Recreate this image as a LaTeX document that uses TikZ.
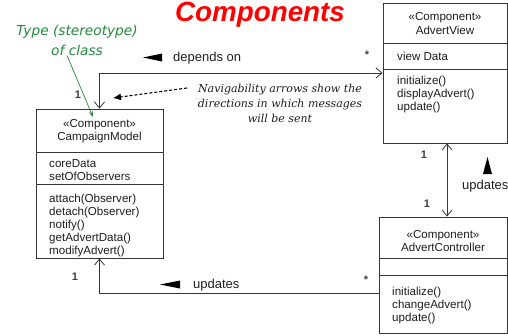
\documentclass[tikz,border=0pt]{standalone}
\usepackage{fontspec}
\setmainfont{Liberation Sans}
\newfontfamily\notefont{DejaVu Serif}
\newfontfamily\calloutfont{DejaVu Sans}
\usetikzlibrary{arrows.meta}
\definecolor{umlline}{RGB}{55,55,55}
\definecolor{umltext}{RGB}{30,30,30}
\definecolor{calloutgreen}{RGB}{34,139,60}
\begin{document}
\begin{tikzpicture}[x=1pt,y=-1pt,
  cls/.style={draw=umlline, line width=0.9pt, fill=white, inner sep=0pt},
  txt/.style={font=\fontsize{11.6}{13.2}\selectfont, text=umltext, inner sep=0pt},
  lbl/.style={font=\fontsize{13}{15}\selectfont, text=umltext, inner sep=0pt},
  mult/.style={font=\fontsize{11}{13}\bfseries\selectfont, text=umltext!85, inner sep=0pt},
  assoc/.style={draw=umlline, line width=0.8pt},
  nav/.style={-{Straight Barb[length=6pt,width=10pt,line width=0.8pt]}},
  navboth/.style={{Straight Barb[length=6pt,width=10pt,line width=0.8pt]}-{Straight Barb[length=6pt,width=10pt,line width=0.8pt]}},
  dirmark/.style={fill=black}
]
\useasboundingbox (0,0) rectangle (508,335);

% title
\node[font=\fontsize{27.8}{30}\bfseries\itshape\selectfont, text=red, inner sep=0pt, anchor=base] (title) at (260,21) {Components};

% CampaignModel
\node[cls, minimum width=127pt, minimum height=149pt] (cm) at (99.5,183.5) {};
\draw[assoc] (36,152) -- (163,152);
\draw[assoc] (36,184) -- (163,184);
\node[txt, align=center] (cmhead) at (99.5,131) {«Component»\\CampaignModel};
\node[txt, align=left, anchor=north west] (cmattr) at (49,159.5) {coreData\\setOfObservers};
\node[txt, align=left, anchor=north west] (cmops) at (49,193.5) {attach(Observer)\\detach(Observer)\\notify()\\getAdvertData()\\modifyAdvert()};

% AdvertView
\node[cls, minimum width=124pt, minimum height=140pt] (av) at (445,73) {};
\draw[assoc] (383,43) -- (507,43);
\draw[assoc] (383,69) -- (507,69);
\node[txt, align=center] (avhead) at (445,23.5) {«Component»\\AdvertView};
\node[txt, anchor=base west] (avattr) at (397,60) {view Data};
\node[txt, align=left, anchor=north west] (avops) at (397,75.5) {initialize()\\displayAdvert()\\update()};

% AdvertController
\node[cls, minimum width=128pt, minimum height=116pt] (ac) at (443,275) {};
\draw[assoc] (379,258) -- (507,258);
\draw[assoc] (379,275) -- (507,275);
\node[txt, align=center] (achead) at (443,241) {«Component»\\AdvertController};
\node[txt, align=left, anchor=north west] (acops) at (392,286.5) {initialize()\\changeAdvert()\\update()};

% associations
\draw[assoc, navboth] (cm.north) |- (av.west);
\draw[assoc, navboth] ([xshift=2pt]av.south) -- ([xshift=2pt]av.south |- ac.north);
\draw[assoc, nav] ([yshift=-18pt]ac.west) -| (cm.south);

% association names and direction marks
\node[lbl, anchor=base west] (dep) at (173,61) {depends on};
\fill[dirmark] (143,57.5) -- (162,53.5) -- (162,61.5) -- cycle;
\node[lbl, anchor=base west] (upd1) at (193,288) {updates};
\fill[dirmark] (160,284.5) -- (180,280.5) -- (180,288.5) -- cycle;
\node[lbl, anchor=base west] (upd2) at (462,189) {updates};
\fill[dirmark] (487.5,157) -- (483,174) -- (492,174) -- cycle;

% multiplicities
\node[mult, anchor=base] (m1) at (78,98) {1};
\node[mult, anchor=base] (m2) at (367,58) {*};
\node[mult, anchor=base] (m3) at (424,158) {1};
\node[mult, anchor=base] (m4) at (427,207) {1};
\node[mult, anchor=base] (m5) at (75,280) {1};
\node[mult, anchor=base] (m6) at (366,283) {*};

% note on navigability
\node[font=\fontsize{11}{15}\notefont\itshape\selectfont, text=umltext, align=center, inner sep=0pt] (note) at (280,103) {Navigability arrows show the\\directions in which messages\\will be sent};
\coordinate (navtip) at (113,98);
\draw[densely dashed, line width=1.1pt, -{Latex[length=8pt,width=7pt]}] (187,88) -- (navtip);

% stereotype callout
\node[font=\fontsize{13.7}{20}\calloutfont\itshape\selectfont, text=calloutgreen, align=center, inner sep=0pt, anchor=north] (stereo) at (77,24.5) {Type (stereotype)\\of class};
\coordinate (stereotip) at (93,117);
\draw[calloutgreen, line width=0.7pt, -{Stealth[length=6pt,width=4pt]}] ([xshift=-10pt]stereo.south) -- (stereotip);
\end{tikzpicture}
\end{document}
